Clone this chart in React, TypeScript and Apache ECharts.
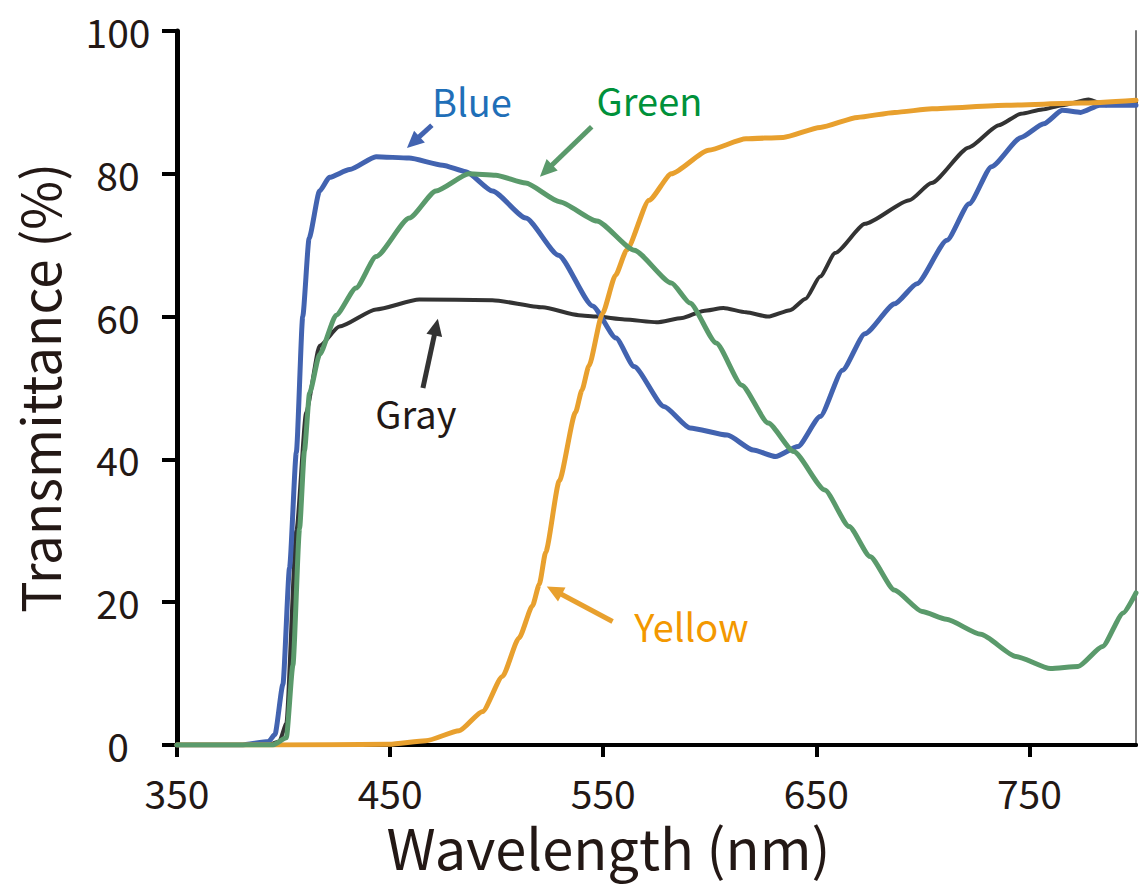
import React, { useEffect, useRef } from "react";
import * as echarts from "echarts";

const FONT = '"Noto Sans CJK JP", "Noto Sans", sans-serif';
const TEXT_COLOR = "#231815";

const xTicks = [350, 450, 550, 650, 750];

const blueNm = [350, 380, 393, 396, 399.7, 402.8, 406, 409, 412, 416.9, 421.5, 431, 443.4, 458.9, 474.6, 485.6, 498, 513.7, 529, 545, 556, 564.5, 578.5, 590.7, 608.2, 620.4, 630.9, 641.4, 651.8, 662.3, 672.8, 686.8, 697.2, 711.3, 721.7, 732.2, 746.1, 756.7, 765.4, 774, 783, 800];
const blueT = [0, 0, 0.5, 1.5, 8.5, 24.8, 41, 60, 71, 77.6, 79.5, 80.6, 82.4, 82.2, 81.2, 80.3, 77.6, 73.8, 68.6, 61.5, 57, 53, 47.4, 44.4, 43.4, 41.3, 40.4, 41.8, 46, 52.5, 57.6, 61.8, 64.6, 70.7, 75.8, 81, 85.1, 87, 88.9, 88.6, 89.6, 89.6];

const grayNm = [350, 393, 398, 401.3, 406, 410.6, 416.9, 426.2, 443.4, 463.7, 498, 521.5, 538.6, 547, 560, 575, 587, 597, 606.4, 617, 627.4, 637.7, 645, 651.8, 658.8, 672.9, 693.7, 704, 721.6, 735.6, 746, 756, 765.4, 777.7, 786, 793, 800];
const grayT = [0, 0, 0.5, 3, 30, 46.6, 55.9, 58.6, 61, 62.4, 62.3, 61.3, 60.2, 60, 59.6, 59.2, 59.8, 60.8, 61.2, 60.6, 60, 60.9, 62.5, 65.6, 68.9, 73, 76.3, 78.7, 83.7, 86.8, 88.4, 89, 89.6, 90.4, 89.6, 90.2, 90];

const greenNm = [350, 395, 401.3, 404.4, 407.5, 409.8, 412.2, 416.9, 424.7, 434, 443.4, 459, 471.5, 487, 499.6, 513.6, 529.5, 547, 564.5, 582, 590.7, 603, 615, 627.4, 639.4, 654, 665.4, 675.2, 686.6, 699.6, 711, 727.2, 743.6, 759.9, 772.8, 784.3, 794, 800];
const greenT = [0, 0, 1, 11.2, 30.3, 41.2, 49.3, 54.7, 60.2, 64, 68.4, 73.8, 77.6, 80, 79.8, 78.7, 76.1, 73.4, 69.3, 64.7, 61.9, 56.3, 50.4, 45.1, 41.1, 35.7, 30.6, 26.4, 21.7, 18.7, 17.6, 15.5, 12.4, 10.7, 11, 13.8, 18.5, 21.3];

const yellowNm = [350, 395, 449.6, 466.8, 482.4, 493.4, 502.7, 510.5, 516.8, 520, 523, 529.4, 537, 540, 543.3, 549.6, 555.8, 561, 571.5, 582, 599.4, 617, 634.4, 651.8, 669.3, 686.8, 704.3, 739.2, 774, 800];
const yellowT = [0, 0, 0.1, 0.6, 2, 4.7, 9.6, 15, 19.5, 22.5, 27, 37, 46.6, 49.7, 53.1, 60.4, 65.8, 69.3, 76.3, 80, 83.3, 84.9, 85.1, 86.5, 87.9, 88.6, 89.1, 89.6, 89.9, 90.3];

// annotations: label, text position, arrow start, arrow tip (data coordinates)
const annNames = ["Blue", "Green", "Gray", "Yellow"];
const annTextPos = [[488.4, 90.3], [571.7, 90.4], [462.1, 46.5], [591.4, 16.7]];
const annArrowFrom = [[469.6, 86.8], [544.6, 86.6], [465.4, 50], [554.4, 17.3]];
const annArrowTo = [[457.9, 83.6], [520.3, 79.6], [472.4, 59.7], [523.5, 22.2]];
const annTextColors = ["#1f6fb8", "#00913a", TEXT_COLOR, "#f39800"];
const annArrowColors = ["#4263b0", "#5a9a6b", "#333333", "#e8a02e"];

const zip = (a: number[], b: number[]) => a.map((v, i) => [v, b[i]]);

export default function App() {
  const ref = useRef<HTMLDivElement>(null);
  useEffect(() => {
    if (!ref.current) return;
    const chart = echarts.init(ref.current, null, { renderer: "svg" });
    const lineSeries = (name: string, data: number[][], color: string, width: number) => ({
      name,
      type: "line",
      data,
      showSymbol: false,
      symbol: "none",
      smooth: 0.2,
      smoothMonotone: "x",
      lineStyle: { color, width, cap: "round", join: "round" },
      z: 3,
    });
    chart.setOption({
      animation: false,
      backgroundColor: "#ffffff",
      grid: { left: 177, right: 3, top: 31, bottom: 143, containLabel: false, outerBoundsMode: "none" },
      xAxis: [
        {
          type: "value",
          min: 350,
          max: 800,
          name: "Wavelength (nm)",
          nameLocation: "middle",
          nameGap: 72,
          nameTextStyle: { fontSize: 56, color: TEXT_COLOR, fontFamily: FONT, padding: [0, 96, 0, 0] },
          axisLine: { show: true, onZero: false, lineStyle: { color: "#000", width: 4 } },
          axisTick: { show: true, inside: false, length: 12, customValues: xTicks, lineStyle: { color: "#000", width: 4 } },
          axisLabel: { show: true, customValues: xTicks, margin: 27, fontSize: 39, color: TEXT_COLOR, fontFamily: FONT },
          splitLine: { show: false },
        },
        {
          type: "value",
          min: 350,
          max: 800,
          position: "top",
          axisLine: { show: true, lineStyle: { color: "#000", width: 4 } },
          axisTick: { show: false },
          axisLabel: { show: false },
          splitLine: { show: false },
        },
      ],
      yAxis: [
        {
          type: "value",
          min: 0,
          max: 100,
          interval: 20,
          name: "Transmittance (%)",
          nameLocation: "middle",
          nameGap: 113,
          nameTextStyle: { fontSize: 53, color: TEXT_COLOR, fontFamily: FONT },
          axisLine: { show: true, onZero: false, lineStyle: { color: "#000", width: 5 } },
          axisTick: { show: true, inside: false, length: 15, lineStyle: { color: "#000", width: 4 } },
          axisLabel: { show: true, align: "center", margin: 59, fontSize: 39, color: TEXT_COLOR, fontFamily: FONT },
          splitLine: { show: false },
        },
        {
          type: "value",
          min: 0,
          max: 100,
          position: "right",
          axisLine: { show: true, lineStyle: { color: "#777", width: 2 } },
          axisTick: { show: false },
          axisLabel: { show: false },
          splitLine: { show: false },
        },
      ],
      series: [
        lineSeries("Gray", zip(grayNm, grayT), "#333333", 4),
        lineSeries("Blue", zip(blueNm, blueT), "#4263b0", 5),
        lineSeries("Yellow", zip(yellowNm, yellowT), "#e8a02e", 5),
        lineSeries("Green", zip(greenNm, greenT), "#5a9a6b", 5),
      ],
    });

    const toPx = (p: number[]) => chart.convertToPixel({ xAxisIndex: 0, yAxisIndex: 0 }, p) as number[];
    const graphics: any[] = [];
    annNames.forEach((name, i) => {
      const t = toPx(annTextPos[i]);
      const s = toPx(annArrowFrom[i]);
      const e = toPx(annArrowTo[i]);
      const dx = e[0] - s[0];
      const dy = e[1] - s[1];
      const len = Math.sqrt(dx * dx + dy * dy) || 1;
      const ux = dx / len;
      const uy = dy / len;
      const headL = 17;
      const headW = 8;
      const bx = e[0] - ux * headL;
      const by = e[1] - uy * headL;
      const nx = -uy;
      const ny = ux;
      graphics.push({
        type: "line",
        z: 10,
        shape: { x1: s[0], y1: s[1], x2: bx + ux * 2, y2: by + uy * 2 },
        style: { stroke: annArrowColors[i], lineWidth: 5 },
      });
      graphics.push({
        type: "polygon",
        z: 10,
        shape: { points: [[e[0], e[1]], [bx + nx * headW, by + ny * headW], [bx - nx * headW, by - ny * headW]] },
        style: { fill: annArrowColors[i] },
      });
      graphics.push({
        type: "text",
        z: 11,
        x: t[0],
        y: t[1],
        style: {
          text: name,
          fill: annTextColors[i],
          fontSize: 38,
          fontFamily: FONT,
          align: "center",
          verticalAlign: "middle",
        },
      });
    });
    chart.setOption({ graphic: graphics });

    return () => chart.dispose();
  }, []);
  return (
    <div
      ref={ref}
      style={{ position: "absolute", left: 0, top: 0, width: 1139, height: 888, background: "#fff" }}
    />
  );
}
